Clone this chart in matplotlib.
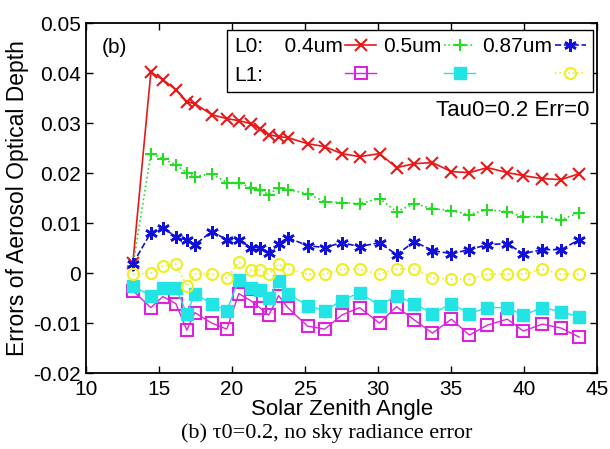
import numpy as np
import matplotlib.pyplot as plt
from matplotlib.ticker import FuncFormatter
from matplotlib.legend_handler import HandlerBase

# solar zenith angles of the retrievals
sza = [13.21, 14.44, 15.26, 16.15, 16.90, 17.45, 18.61, 19.64, 20.46, 21.28,
       21.89, 22.51, 23.19, 23.81, 25.17, 26.34, 27.50, 28.73, 30.10, 31.26,
       32.49, 33.72, 35.02, 36.25, 37.48, 38.85, 39.94, 41.24, 42.54, 43.77]

# L0 errors (0.4, 0.5, 0.87 um)
l0_04 = [0.0021, 0.0402, 0.0387, 0.0367, 0.0343, 0.0339, 0.0317, 0.0309, 0.0305, 0.0299,
         0.0289, 0.0277, 0.0273, 0.0271, 0.0259, 0.0253, 0.0239, 0.0233, 0.0239, 0.0211,
         0.0219, 0.0221, 0.0203, 0.0201, 0.0211, 0.0201, 0.0195, 0.0189, 0.0187, 0.0199]
l0_05 = [0.0015, 0.0239, 0.0229, 0.0217, 0.0201, 0.0193, 0.0199, 0.0181, 0.0181, 0.0171,
         0.0167, 0.0157, 0.0171, 0.0167, 0.0159, 0.0143, 0.0141, 0.0139, 0.0149, 0.0123,
         0.0139, 0.0129, 0.0125, 0.0117, 0.0127, 0.0123, 0.0113, 0.0113, 0.0107, 0.0121]
l0_087 = [0.0019, 0.0081, 0.0091, 0.0073, 0.0067, 0.0057, 0.0083, 0.0067, 0.0067, 0.0051,
          0.0051, 0.0041, 0.0059, 0.0071, 0.0055, 0.0051, 0.0061, 0.0053, 0.0061, 0.0037,
          0.0063, 0.0045, 0.0039, 0.0047, 0.0057, 0.0059, 0.0039, 0.0047, 0.0047, 0.0067]

# L1 errors (0.4, 0.5, 0.87 um)
l1_04 = [-0.0035, -0.0069, -0.0047, -0.0061, -0.0114, -0.0079, -0.0100, -0.0112, -0.0041, -0.0055,
         -0.0069, -0.0084, -0.0045, -0.0069, -0.0106, -0.0112, -0.0084, -0.0069, -0.0100, -0.0067,
         -0.0094, -0.0120, -0.0092, -0.0124, -0.0104, -0.0092, -0.0116, -0.0102, -0.0110, -0.0128]
l1_05 = [-0.0026, -0.0045, -0.0029, -0.0029, -0.0081, -0.0041, -0.0061, -0.0075, -0.0014, -0.0029,
         -0.0033, -0.0049, -0.0016, -0.0041, -0.0065, -0.0075, -0.0055, -0.0039, -0.0065, -0.0045,
         -0.0061, -0.0081, -0.0061, -0.0081, -0.0069, -0.0069, -0.0084, -0.0069, -0.0077, -0.0088]
l1_087 = [-0.0002, 0.0000, 0.0014, 0.0018, -0.0026, -0.0002, -0.0002, -0.0010, 0.0022, 0.0006,
          0.0006, -0.0002, 0.0018, 0.0008, -0.0002, -0.0002, 0.0008, 0.0008, -0.0002, 0.0008,
          0.0008, -0.0010, -0.0012, -0.0012, -0.0002, -0.0002, -0.0002, 0.0008, -0.0002, -0.0002]

yticks = [-0.02, -0.01, 0, 0.01, 0.02, 0.03, 0.04, 0.05]
xticks = [10, 15, 20, 25, 30, 35, 40, 45]


class NoHandle(HandlerBase):
    # legend entry with text only, no space kept for a handle
    def legend_artist(self, legend, orig_handle, fontsize, handlebox):
        handlebox.width = 0
        art = plt.Line2D([], [])
        handlebox.add_artist(art)
        return art


plt.rcParams['font.family'] = ['Liberation Sans', 'DejaVu Sans']
fs = 15

fig = plt.figure(figsize=(6.1, 4.49), dpi=100)
ax = fig.add_axes([0.141, 0.169, 0.838, 0.7795])

red = '#e81818'
green = '#22dd22'
blue = '#1010d8'
magenta = '#dd22dd'
cyan = '#22e4e4'
yellow = '#eeee22'
asterisk = (6, 2, 0)

h1, = ax.plot(sza, l0_04, '-', color=red, marker='x', ms=8, mew=1.5, lw=1.2)
h2, = ax.plot(sza, l0_05, ':', color=green, marker='+', ms=9, mew=1.5, lw=1.2)
h3, = ax.plot(sza, l0_087, '--', color=blue, marker=asterisk, ms=9, mew=1.8, lw=1.2)
h4, = ax.plot(sza, l1_04, '-', color=magenta, marker='s', ms=8, mfc='none', mew=1.5, lw=1.0)
h5, = ax.plot(sza, l1_05, '-', color=cyan, marker='s', ms=8, mfc=cyan, mew=1.0, lw=1.0)
h6, = ax.plot(sza, l1_087, ':', color=yellow, marker='o', ms=8, mfc='none', mew=1.5, lw=1.2)

ax.set_xlim(10, 45)
ax.set_ylim(-0.02, 0.05)
ax.set_xticks(xticks)
ax.set_yticks(yticks)
ax.yaxis.set_major_formatter(FuncFormatter(lambda v, p: '0' if abs(v) < 1e-9 else f'{v:.2f}'))
ax.tick_params(direction='in', top=True, right=True, labelsize=fs, length=5, width=1)
ax.tick_params(axis='x', pad=5)
for s in ax.spines.values():
    s.set_linewidth(1.3)

ax.set_xlabel('Solar Zenith Angle', fontsize=16, labelpad=0)
ax.set_ylabel('Errors of Aerosol Optical Depth', fontsize=16.5, labelpad=3)

ax.text(0.03, 0.93, '(b)', transform=ax.transAxes, fontsize=fs, va='center')
ax.text(0.985, 0.75, 'Tau0=0.2 Err=0', transform=ax.transAxes, fontsize=16,
        ha='right', va='center')

# legend laid out as two rows: L0 and L1
blank = plt.Line2D([], [], linestyle='none')
handles = [blank, blank, h1, h4, h2, h5, h3, h6]
labels = ['L0:', 'L1:', '  0.4um', '', '0.5um', '', '0.87um', '']
leg = ax.legend(handles, labels, ncol=4, markerfirst=False, loc='upper right',
                bbox_to_anchor=(0.992, 0.98), borderaxespad=0, fontsize=fs,
                handlelength=1.5, handletextpad=0.1, columnspacing=0.35,
                labelspacing=0.45, borderpad=0.35, fancybox=False, framealpha=1,
                handler_map={blank: NoHandle()})
leg.get_frame().set_edgecolor('black')
leg.get_frame().set_linewidth(1.0)

fig.text(0.535, 0.036, '(b) τ0=0.2, no sky radiance error', fontsize=16,
         family=['Liberation Serif', 'DejaVu Serif'], ha='center', va='center')

plt.savefig('out.png', dpi=100)
plt.close()
